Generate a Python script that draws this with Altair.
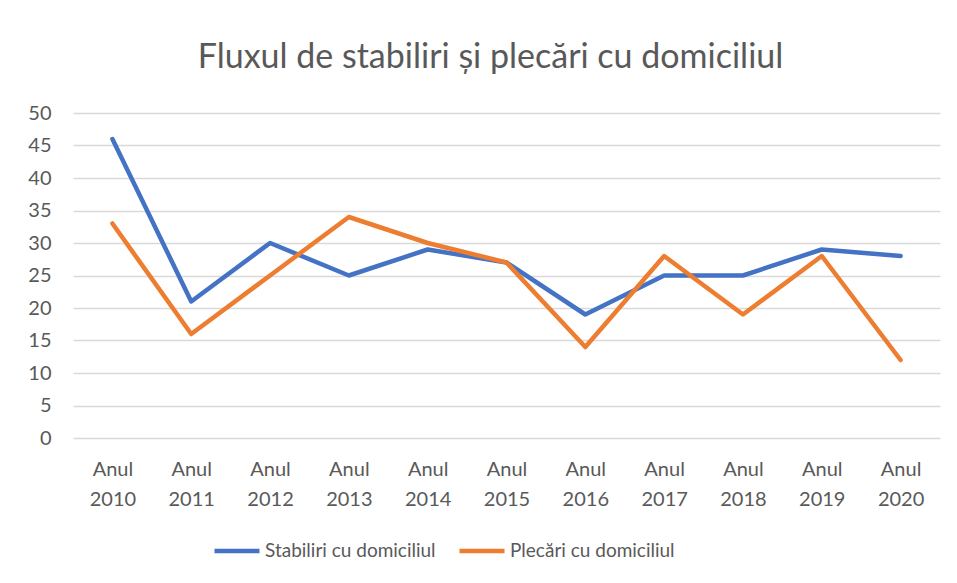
import altair as alt
import pandas as pd

years = ["Anul 2010", "Anul 2011", "Anul 2012", "Anul 2013", "Anul 2014", "Anul 2015",
         "Anul 2016", "Anul 2017", "Anul 2018", "Anul 2019", "Anul 2020"]
stabiliri = [46, 21, 30, 25, 29, 27, 19, 25, 25, 29, 28]
plecari = [33, 16, 25, 34, 30, 27, 14, 28, 19, 28, 12]
series_names = ["Stabiliri cu domiciliul", "Plecări cu domiciliul"]
series_colors = ["#4472C4", "#ED7D31"]

rows = []
for name, vals in zip(series_names, [stabiliri, plecari]):
    for y, v in zip(years, vals):
        rows.append({"An": y, "Valoare": v, "Serie": name})
df = pd.DataFrame(rows)

FONT = "Lato"
GREY = "#595959"

chart = alt.Chart(df).mark_line(strokeWidth=4.5, strokeCap="round", strokeJoin="round").encode(
    x=alt.X("An:N", sort=years, title=None,
            scale=alt.Scale(paddingInner=0, paddingOuter=0.5),
            axis=alt.Axis(labelAngle=0, labelExpr="split(datum.label, ' ')", labelLineHeight=30,
                          labelPadding=21, ticks=False, domain=False, grid=False,
                          labelFontSize=20, labelColor=GREY, labelFont=FONT)),
    y=alt.Y("Valoare:Q", title=None,
            scale=alt.Scale(domain=[0, 50], nice=False),
            axis=alt.Axis(values=list(range(0, 51, 5)), ticks=False, domain=False,
                          labelPadding=22, labelFontSize=20, labelColor=GREY, labelFont=FONT,
                          gridColor="#d9d9d9", gridWidth=1.3)),
    color=alt.Color("Serie:N", title=None,
                    scale=alt.Scale(domain=series_names, range=series_colors),
                    legend=alt.Legend(orient="none", legendX=139, legendY=413, direction="horizontal",
                                      symbolType="stroke", symbolSize=2025, symbolStrokeWidth=4.5,
                                      labelFontSize=19, labelColor=GREY, labelFont=FONT,
                                      labelLimit=400, labelOffset=3, columnPadding=14)),
).properties(
    width=867, height=325,
    title=alt.TitleParams("Fluxul de stabiliri și plecări cu domiciliul", fontSize=34,
                          font=FONT, color=GREY, fontWeight="normal", offset=28, dx=-16),
    autosize=alt.AutoSizeParams(type="none"),
    padding={"left": 65, "top": 105, "right": 9, "bottom": 137},
).configure_view(stroke=None)

chart.save("out.html", embed_options={"renderer": "svg", "actions": False})
